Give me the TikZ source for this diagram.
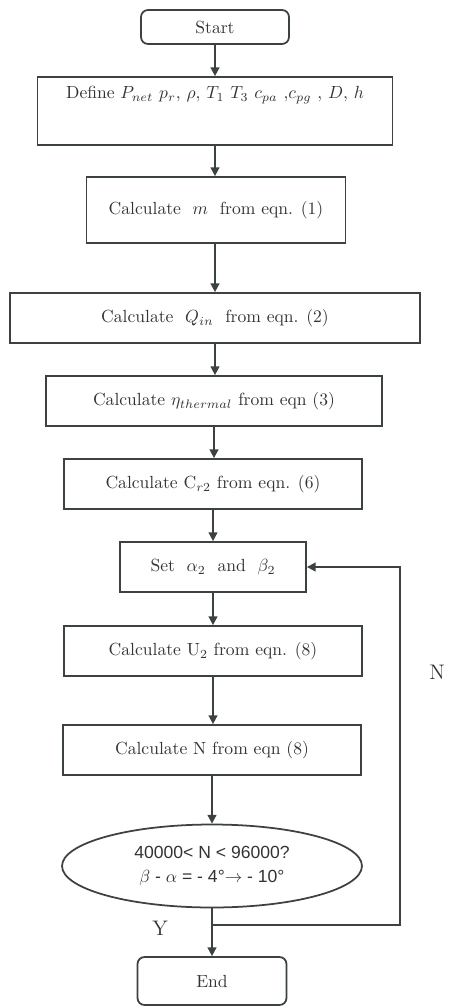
\documentclass[tikz,border=0pt]{standalone}
\usepackage{fontspec}
\newfontfamily\arialish{Liberation Sans}
\usetikzlibrary{arrows.meta,shapes.geometric}
\definecolor{ln}{HTML}{3C4240}
\definecolor{tx}{HTML}{333333}
\tikzset{
  box/.style={draw=ln, line width=1pt, text=tx, inner sep=2pt, align=center},
  term/.style={box, rounded corners=4pt},
  dec/.style={draw=ln, line width=1pt, text=tx, ellipse, inner sep=0pt, align=center, font=\arialish},
  arr/.style={draw=ln, line width=1pt, -{Triangle[width=5pt,length=5pt]}},
  lbl/.style={text=tx, font=\large}
}
\begin{document}
\begin{tikzpicture}[x=0.02cm,y=-0.02cm]
\useasboundingbox (0,0) rectangle (449,1008);
\node[term, minimum width=2.96cm, minimum height=0.68cm] (start) at (215,27) {Start};
\node[box, minimum width=7.10cm, text height=0.3cm, text depth=0.8cm, inner ysep=0.13cm] (def) at (215,111)
  {Define $P_{net}$ $p_r$, $\rho$, $T_1$ $T_3$ $c_{pa}$ ,$c_{pg}$ , $D$, $h$};
\node[box, minimum width=5.18cm, minimum height=1.32cm] (calm) at (216,210) {Calculate \ $m$ \ from eqn. (1)};
\node[box, minimum width=8.20cm, minimum height=1.00cm] (calq) at (215,318) {Calculate \ $Q_{in}$ \ from eqn. (2)};
\node[box, minimum width=6.72cm, minimum height=1.00cm] (cale) at (214,401) {Calculate $\eta_{thermal}$ from eqn (3)};
\node[box, minimum width=5.96cm, minimum height=1.00cm] (calc) at (213,484) {Calculate C$_{r2}$ from eqn. (6)};
\node[box, minimum width=3.72cm, minimum height=1.00cm] (set) at (213,567) {Set \ $\alpha_2$ \ and \ $\beta_2$};
\node[box, minimum width=5.96cm, minimum height=1.00cm] (calu) at (213,651) {Calculate U$_2$ from eqn. (8)};
\node[box, minimum width=5.96cm, minimum height=1.00cm] (caln) at (212,750) {Calculate N from eqn (8)};
\node[dec, minimum width=6.0cm, minimum height=1.66cm] (chk) at (212,866)
  {40000< N < 96000?\\[2pt] $\beta$ - $\alpha$ = - 4°$\rightarrow$ - 10°};
\node[term, minimum width=2.98cm, minimum height=0.96cm] (end) at (212,981) {End};
\node[lbl] (nlab) at (437,672) {N};
\node[lbl] (ylab) at (160,928) {Y};
\draw[arr] (start.south) -- (start.south |- def.north);
\draw[arr] (def.south) -- (def.south |- calm.north);
\draw[arr] (calm.south -| def.south) -- (def.south |- calq.north);
\draw[arr] (calq.south) -- (calq.south |- cale.north);
\draw[arr] (cale.south) -- (cale.south |- calc.north);
\draw[arr] (calc.south) -- (calc.south |- set.north);
\draw[arr] (set.south) -- (set.south |- calu.north);
\draw[arr] (calu.south) -- (calu.south |- caln.north);
\draw[arr] (caln.south) -- (caln.south |- chk.north);
\draw[arr] (chk.south) -- (chk.south |- end.north);
\coordinate (j) at (212,925);
\coordinate (loopx) at (400,925);
\draw[arr] (j) -- (loopx) |- (set.east);
\end{tikzpicture}
\end{document}
